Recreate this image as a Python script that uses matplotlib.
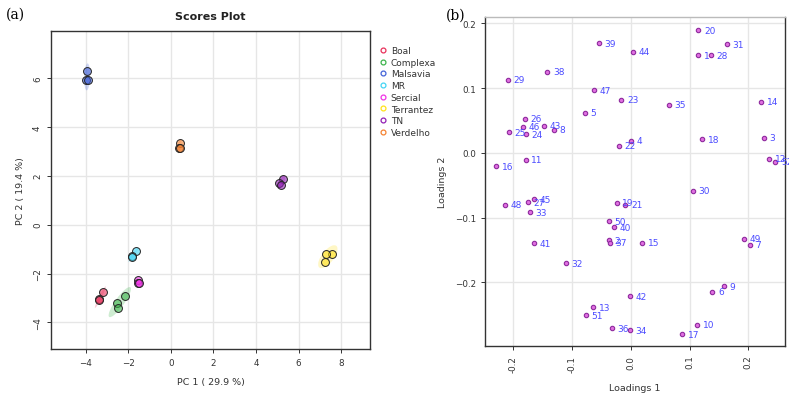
import numpy as np
import matplotlib
matplotlib.use("Agg")
import matplotlib.pyplot as plt
from matplotlib.patches import Ellipse

# ---- Scores data (PC1, PC2) ----
groups = ["Boal", "Complexa", "Malsavia", "MR", "Sercial", "Terrantez", "TN", "Verdelho"]
pc1 = {
    "Boal": [-3.19, -3.37, -3.37],
    "Complexa": [-2.15, -2.54, -2.50],
    "Malsavia": [-3.92, -3.99, -3.88],
    "MR": [-1.64, -1.82, -1.80],
    "Sercial": [-1.56, -1.56, -1.48],
    "Terrantez": [7.59, 7.29, 7.25],
    "TN": [5.26, 5.10, 5.18],
    "Verdelho": [0.43, 0.37, 0.43],
}
pc2 = {
    "Boal": [-2.76, -3.03, -3.10],
    "Complexa": [-2.90, -3.20, -3.40],
    "Malsavia": [6.30, 5.91, 5.91],
    "MR": [-1.09, -1.29, -1.31],
    "Sercial": [-2.27, -2.39, -2.39],
    "Terrantez": [-1.18, -1.22, -1.53],
    "TN": [1.85, 1.71, 1.64],
    "Verdelho": [3.33, 3.13, 3.13],
}
legend_colors = ["#E8305A", "#3CB44B", "#4363D8", "#42D4F4", "#F032E6", "#FFE119", "#911EB4", "#F58231"]

# ---- Loadings data ----
load_ids = list(range(1, 53))
load1 = [0.115, -0.037, 0.226, 0.001, -0.078, 0.139, 0.203, -0.131, 0.159, 0.113,
         -0.179, 0.236, -0.064, 0.222, 0.019, -0.229, 0.088, 0.122, -0.024, 0.115,
         -0.009, -0.020, -0.016, -0.178, -0.207, -0.180, -0.175, 0.136, -0.209, 0.106,
         0.163, -0.110, -0.172, -0.001, 0.065, -0.032, -0.036, -0.142, -0.054, -0.028,
         -0.164, -0.001, -0.148, 0.003, -0.165, -0.183, -0.063, -0.214, 0.192, -0.037,
         -0.077, 0.246]
load2 = [0.151, -0.135, 0.023, 0.019, 0.062, -0.215, -0.142, 0.036, -0.206, -0.266,
         -0.011, -0.009, -0.239, 0.079, -0.139, -0.021, -0.280, 0.021, -0.077, 0.189,
         -0.080, 0.011, 0.082, 0.029, 0.032, 0.053, -0.076, 0.151, 0.113, -0.059,
         0.168, -0.171, -0.092, -0.274, 0.074, -0.271, -0.139, 0.125, 0.169, -0.115,
         -0.140, -0.222, 0.042, 0.156, -0.072, 0.040, 0.097, -0.080, -0.133, -0.106,
         -0.251, -0.014]

fig = plt.figure(figsize=(7.89, 4.02), dpi=100)
fig.patch.set_facecolor("white")
grid_c = "#E6E6E6"
frame_c = "#333333"
txt_c = "#333333"

# ---------------- Panel (a) ----------------
ax = fig.add_axes([0.0646, 0.129, 0.4044, 0.791])
ax.set_xlim(-5.63, 9.36)
ax.set_ylim(-5.09, 7.91)
ax.set_xticks([-4, -2, 0, 2, 4, 6, 8])
ax.set_yticks([-4, -2, 0, 2, 4, 6])
ax.grid(True, color=grid_c, linewidth=1.0)
ax.set_axisbelow(True)
for s in ax.spines.values():
    s.set_color(frame_c)
    s.set_linewidth(1.0)
ax.tick_params(axis="both", labelsize=6.3, colors=txt_c, length=3, width=0.7, direction="out")
for lab in ax.get_yticklabels():
    lab.set_rotation(90)
    lab.set_va("center")
ax.set_xlabel("PC 1 ( 29.9 %)", fontsize=6.8, color=txt_c, labelpad=7)
ax.set_ylabel("PC 2 ( 19.4 %)", fontsize=6.8, color=txt_c, labelpad=6)
ax.set_title("Scores Plot", fontsize=8, fontweight="bold", color="#222222", pad=9)

for g, c in zip(groups, legend_colors):
    x = np.array(pc1[g]); y = np.array(pc2[g])
    cov = np.cov(x, y)
    vals, vecs = np.linalg.eigh(cov)
    vals = np.clip(vals, 1e-6, None)
    ang = np.degrees(np.arctan2(vecs[1, 1], vecs[0, 1]))
    k = 2.448
    e = Ellipse((x.mean(), y.mean()), 2 * k * np.sqrt(vals[1]), max(2 * k * np.sqrt(vals[0]), 0.12),
                angle=ang, facecolor=c, alpha=0.25, edgecolor="none", zorder=1)
    ax.add_patch(e)

for g, c in zip(groups, legend_colors):
    ax.scatter(pc1[g], pc2[g], s=32, facecolor=matplotlib.colors.to_rgba(c, 0.6),
               edgecolor="#222222", linewidth=0.7, zorder=3)

handles = [plt.Line2D([], [], marker="o", linestyle="none", markersize=3.5,
                      markerfacecolor="none", markeredgecolor=c, markeredgewidth=0.9)
           for c in legend_colors]
leg = fig.legend(handles, groups, loc="upper left", bbox_to_anchor=(0.478, 0.892),
                 frameon=False, fontsize=6.5, handlelength=0.6, handletextpad=0.5,
                 labelspacing=0.3, borderaxespad=0)
for t in leg.get_texts():
    t.set_color(txt_c)

fig.text(0.008, 0.963, "(a)", fontsize=10, family="DejaVu Serif", va="center")

# ---------------- Panel (b) ----------------
bx = fig.add_axes([0.6147, 0.1376, 0.3803, 0.8174])
bx.set_xlim(-0.248, 0.2625)
bx.set_ylim(-0.298, 0.2097)
bx.set_xticks([-0.2, -0.1, 0.0, 0.1, 0.2])
bx.set_yticks([-0.2, -0.1, 0.0, 0.1, 0.2])
bx.set_xticklabels(["-0.2", "-0.1", "0.0", "0.1", "0.2"], rotation=90)
bx.grid(True, color=grid_c, linewidth=1.0)
bx.set_axisbelow(True)
for s in bx.spines.values():
    s.set_color(frame_c)
    s.set_linewidth(1.0)
bx.spines["top"].set_color("#BBBBBB")
bx.tick_params(axis="both", labelsize=6.3, colors=txt_c, length=3, width=0.7, direction="out")
bx.set_xlabel("Loadings 1", fontsize=6.8, color=txt_c, labelpad=8)
bx.set_ylabel("Loadings 2", fontsize=6.8, color=txt_c, labelpad=6)

bx.scatter(load1, load2, s=10, facecolor="#E070E0", edgecolor="#8E2A9E", linewidth=0.8, zorder=3)
for i, x, y in zip(load_ids, load1, load2):
    bx.annotate(str(i), (x, y), xytext=(4, 0), textcoords="offset points",
                fontsize=6.5, color="#4B4BFF", va="center", ha="left", zorder=4)

fig.text(0.565, 0.962, "(b)", fontsize=10, family="DejaVu Serif", va="center")

fig.savefig("out.png", dpi=100)
